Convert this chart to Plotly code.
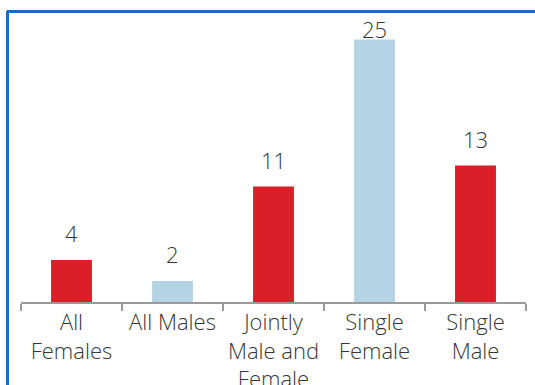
import plotly.graph_objects as go

categories = ["All<br>Females", "All Males", "Jointly<br>Male and<br>Female",
              "Single<br>Female", "Single<br>Male"]
values = [4, 2, 11, 25, 13]
bar_colors = ["#DA1F28", "#B4D4E6", "#DA1F28", "#B4D4E6", "#DA1F28"]

TEXT = "#363636"
FONT = "Open Sans"
SIZE = 22

fig = go.Figure(go.Bar(
    x=categories, y=values, marker=dict(color=bar_colors, line=dict(width=0)),
    width=0.405, hoverinfo="skip",
))

# value labels above each bar; the tallest one sits tight against the bar
for cat, v in zip(categories, values):
    shift = 10 if v < 20 else -6
    fig.add_annotation(x=cat, y=v, text=str(v), showarrow=False, yanchor="bottom",
                       yshift=shift, font=dict(family=FONT, size=SIZE, color=TEXT, weight=300))

W, H = 535, 385
ml, mr, mt, mb = 21, 9, 29, 83
pw, ph = W - ml - mr, H - mt - mb

def px_x(px):
    return (px - ml) / pw

def px_y(py):
    return (H - mb - py) / ph

frame = dict(color="#1B6DC1", width=3)
fig.add_shape(type="line", xref="paper", yref="paper",
              x0=px_x(7), x1=px_x(545), y0=px_y(11.5), y1=px_y(11.5), line=frame)
fig.add_shape(type="line", xref="paper", yref="paper",
              x0=px_x(7.5), x1=px_x(7.5), y0=px_y(11), y1=px_y(400), line=frame)

fig.update_layout(
    width=W, height=H, margin=dict(l=ml, r=mr, t=mt, b=mb),
    paper_bgcolor="white", plot_bgcolor="white", showlegend=False,
    font=dict(family=FONT, color=TEXT),
    xaxis=dict(showline=True, linecolor="#9a9a9a", linewidth=1.5, automargin=False,
               ticks="outside", tickson="boundaries", ticklen=7, tickwidth=1.5,
               tickcolor="#9a9a9a", tickangle=0,
               tickfont=dict(family=FONT, size=SIZE, color=TEXT, weight=300)),
    yaxis=dict(range=[0, 26], visible=False, showgrid=False, zeroline=False,
               automargin=False),
)

fig.write_html("out.html")
